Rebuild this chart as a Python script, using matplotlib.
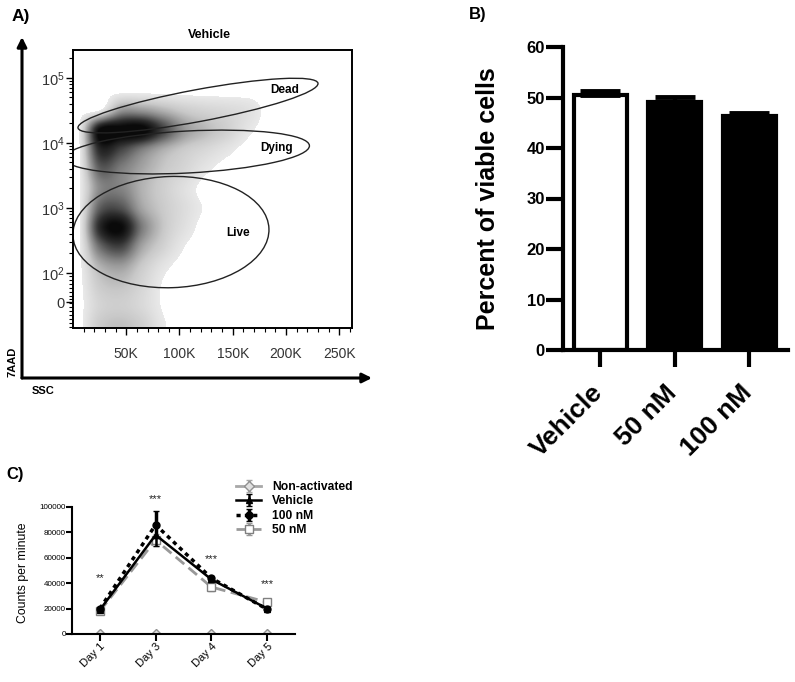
import numpy as np
import matplotlib
matplotlib.use('Agg')
import matplotlib.pyplot as plt
from matplotlib.patches import Ellipse, FancyArrowPatch
from matplotlib.transforms import ScaledTranslation
from matplotlib.colors import LinearSegmentedColormap, Normalize

plt.rcParams['font.family'] = ['Liberation Sans', 'DejaVu Sans']
plt.rcParams['mathtext.fontset'] = 'custom'
plt.rcParams['mathtext.rm'] = 'Liberation Sans'
plt.rcParams['mathtext.it'] = 'Liberation Sans:italic'
plt.rcParams['mathtext.bf'] = 'Liberation Sans:bold'

# ---------------- Panel A data (density) ----------------
ssc_grid = [5000, 25000, 45000, 65000, 85000, 105000, 125000, 145000,
            165000, 185000, 205000, 225000, 245000, 265000]
aad_grid = [5.4, 5.1, 4.8, 4.5, 4.2, 3.9, 3.6, 3.3, 3.0, 2.7, 2.4, 2.1, 1.8, 1.5, 1.2]
density = [
    [0, 0, 0, 0, 0, 0, 0, 0, 0, 0, 0, 0, 0, 0],
    [0, 0, 0, 0, 0, 0, 0, 0, 0, 0, 0, 0, 0, 0],
    [0, 0, 0, 0, 0, 0, 0, 0, 0, 0, 0, 0, 0, 0],
    [0, 0.03, 0.40, 0.40, 0.30, 0.20, 0.15, 0.12, 0.08, 0, 0, 0, 0, 0],
    [0, 0.95, 1.00, 1.00, 0.70, 0.40, 0.27, 0.17, 0.05, 0, 0, 0, 0, 0],
    [0, 0.80, 0.70, 0.50, 0.32, 0.20, 0.13, 0.06, 0, 0, 0, 0, 0, 0],
    [0, 0.60, 0.50, 0.35, 0.22, 0.14, 0.05, 0, 0, 0, 0, 0, 0, 0],
    [0, 0.45, 0.48, 0.30, 0.18, 0.08, 0, 0, 0, 0, 0, 0, 0, 0],
    [0, 0.60, 0.65, 0.35, 0.20, 0.10, 0.02, 0, 0, 0, 0, 0, 0, 0],
    [0, 0.80, 0.95, 0.50, 0.22, 0.08, 0, 0, 0, 0, 0, 0, 0, 0],
    [0, 0.55, 0.70, 0.35, 0.16, 0.03, 0, 0, 0, 0, 0, 0, 0, 0],
    [0, 0.30, 0.38, 0.20, 0.06, 0, 0, 0, 0, 0, 0, 0, 0, 0],
    [0, 0.20, 0.24, 0.14, 0.02, 0, 0, 0, 0, 0, 0, 0, 0, 0],
    [0, 0.15, 0.18, 0.12, 0.02, 0, 0, 0, 0, 0, 0, 0, 0, 0],
    [0, 0.20, 0.25, 0.18, 0.04, 0, 0, 0, 0, 0, 0, 0, 0, 0],
]
ssc_ticks = [50000, 100000, 150000, 200000, 250000]
ssc_labels = ['50K', '100K', '150K', '200K', '250K']
aad_ticks = [1.55, 2, 3, 4, 5]
aad_labels = ['0', '$10^2$', '$10^3$', '$10^4$', '$10^5$']
gate_names = ['Dead', 'Dying', 'Live']

# ---------------- Panel B data ----------------
conditions = ['Vehicle', '50 nM', '100 nM']
viability = [50.4, 49.2, 46.3]
viability_sem = [0.8, 0.9, 0.7]

# ---------------- Panel C data ----------------
days = ['Day 1', 'Day 3', 'Day 4', 'Day 5']
cpm_nonactivated = [300, 300, 300, 300]
cpm_vehicle = [19000, 78000, 43000, 20000]
cpm_100nm = [20000, 86000, 44000, 19500]
cpm_50nm = [18000, 74000, 37000, 25000]
err_nonactivated = [200, 200, 200, 200]
err_vehicle = [1500, 9000, 2000, 1500]
err_100nm = [1500, 10500, 2000, 1500]
err_50nm = [1500, 5000, 3000, 1500]
significance = ['**', '***', '***', '***']
sig_heights = [44000, 106000, 59000, 39000]

W, H = 795, 682
fig = plt.figure(figsize=(W / 100, H / 100), dpi=100)


def fbox(l, t, r, b):
    return [l / W, 1 - b / H, (r - l) / W, (b - t) / H]


# ======================= Panel A =======================
axA = fig.add_axes(fbox(73, 50, 352, 328))
dx = 20000
dy = 0.3
extent = (ssc_grid[0] - dx / 2, ssc_grid[-1] + dx / 2,
          aad_grid[-1] - dy / 2, aad_grid[0] + dy / 2)
flow_cmap = LinearSegmentedColormap.from_list(
    'flow', [(0.0, '#e9e9e9'), (0.2, '#c9c9c9'), (0.5, '#808080'),
             (0.8, '#303030'), (1.0, '#0a0a0a')])
flow_cmap.set_under('white')
flow_cmap.set_over('#0a0a0a')
axA.imshow(np.array(density), cmap=flow_cmap, norm=Normalize(0.03, 0.95),
           extent=extent, origin='upper', aspect='auto',
           interpolation='catrom', interpolation_stage='data')
axA.set_xlim(0, 262000)
axA.set_ylim(1.15, 5.43)
for s in axA.spines.values():
    s.set_linewidth(1.4)
axA.set_xticks(ssc_ticks)
axA.set_xticklabels(ssc_labels, fontsize=10, color='#333333')
for lab in axA.get_xticklabels():
    lab.set_transform(lab.get_transform() + ScaledTranslation(-0.05, 0, fig.dpi_scale_trans))
axA.set_xticks(np.arange(10000, 262000, 10000), minor=True)
axA.set_yticks(aad_ticks)
axA.set_yticklabels(aad_labels, fontsize=10.5, color='#333333')
minor_y = [d + np.log10(k) for d in (2, 3, 4, 5) for k in range(2, 10)
           if d + np.log10(k) < 5.43]
minor_y += list(np.linspace(1.17, 1.95, 14))
axA.set_yticks(minor_y, minor=True)
axA.tick_params(axis='x', which='major', direction='out', length=5, width=1, pad=9)
axA.tick_params(axis='x', which='minor', direction='out', length=3, width=0.8)
axA.tick_params(axis='y', which='major', direction='out', length=5, width=1, pad=1)
axA.tick_params(axis='y', which='minor', direction='out', length=3, width=0.8)

gate_specs = [((0.448, 0.80), 0.875, 0.115, 10.6),
              ((0.409, 0.633), 0.878, 0.151, 3.0),
              ((0.351, 0.345), 0.703, 0.40, 2.0)]
for (c, w, h, ang) in gate_specs:
    axA.add_patch(Ellipse(c, w, h, angle=ang, transform=axA.transAxes,
                          fill=False, edgecolor='#222222', lw=1.0))
label_pos = [(0.76, 0.855), (0.730, 0.648), (0.591, 0.342)]
for name, (x, y) in zip(gate_names, label_pos):
    axA.text(x, y, name, transform=axA.transAxes, ha='center', va='center',
             fontsize=8.5, fontweight='bold')

fig.text(209 / W, 1 - 35 / H, 'Vehicle', ha='center', va='center',
         fontsize=9, fontweight='bold')
fig.text(21 / W, 1 - 16 / H, 'A)', ha='center', va='center',
         fontsize=12.5, fontweight='bold')
fig.text(12 / W, 1 - 362 / H, '7AAD', ha='center', va='center', rotation=90,
         fontsize=8, fontweight='bold')
fig.text(43 / W, 1 - 391 / H, 'SSC', ha='center', va='center',
         fontsize=8, fontweight='bold')
for tip in [(22, 37), (372, 378)]:
    arr = FancyArrowPatch((22 / W, 1 - 378 / H), (tip[0] / W, 1 - tip[1] / H),
                          transform=fig.transFigure, arrowstyle='-|>',
                          mutation_scale=14, lw=2.2, color='black',
                          shrinkA=0, shrinkB=0)
    fig.add_artist(arr)

# ======================= Panel B =======================
axB = fig.add_axes(fbox(563, 47, 788, 350))
xb = np.arange(len(conditions))
axB.bar(xb, viability, width=0.71, color=['white', 'black', 'black'],
        edgecolor='black', linewidth=3, zorder=2)
axB.errorbar(xb, viability, yerr=[np.zeros(len(xb)), viability_sem], fmt='none',
             ecolor='black', elinewidth=3, capsize=14.5, capthick=3.5, zorder=3)
axB.set_xlim(-0.5, 2.52)
axB.set_ylim(0, 60)
axB.spines['top'].set_visible(False)
axB.spines['right'].set_visible(False)
axB.spines['left'].set_linewidth(3)
axB.spines['bottom'].set_linewidth(3)
axB.set_yticks([0, 10, 20, 30, 40, 50, 60])
axB.set_yticklabels(['0', '10', '20', '30', '40', '50', '60'],
                    fontsize=12, fontweight='bold')
axB.tick_params(axis='y', direction='out', length=12, width=3, pad=1)
axB.set_xticks(xb)
axB.set_xticklabels(conditions, fontsize=19, fontweight='bold', rotation=45,
                    ha='right', va='top', rotation_mode='anchor')
axB.tick_params(axis='x', direction='out', length=12, width=3, pad=10)
for lab in axB.get_xticklabels():
    lab.set_transform(lab.get_transform() + ScaledTranslation(-0.10, 0, fig.dpi_scale_trans))
axB.set_ylabel('Percent of viable cells', fontsize=18, fontweight='bold', va='center')
axB.yaxis.set_label_coords((488 - 563) / 225, 0.5)
fig.text(478 / W, 1 - 15 / H, 'B)', ha='center', va='center',
         fontsize=12, fontweight='bold')

# ======================= Panel C =======================
axC = fig.add_axes(fbox(72, 507, 295, 634))
xc = np.arange(len(days))
axC.errorbar(xc, cpm_nonactivated, yerr=err_nonactivated, color='#a8a8a8', lw=2,
             marker='D', ms=5, mfc='#e0e0e0', mec='#909090', capsize=2,
             label='Non-activated', zorder=2)
axC.errorbar(xc, cpm_50nm, yerr=err_50nm, color='#999999', lw=2, ls=(0, (4, 2)),
             marker='s', ms=6, mfc='white', mec='#808080', ecolor='#999999',
             capsize=2.5, label='50 nM', zorder=3)
axC.errorbar(xc, cpm_vehicle, yerr=err_vehicle, color='black', lw=1.8,
             marker='^', ms=5, capsize=2.5, label='Vehicle', zorder=4)
axC.errorbar(xc, cpm_100nm, yerr=err_100nm, color='black', lw=2.5, ls=(0, (1.2, 1.2)),
             marker='o', ms=5, capsize=2.5, label='100 nM', zorder=5)
axC.set_xlim(-0.5, 3.5)
axC.set_ylim(0, 100000)
axC.spines['top'].set_visible(False)
axC.spines['right'].set_visible(False)
axC.spines['left'].set_linewidth(1.5)
axC.spines['bottom'].set_linewidth(1.5)
axC.set_yticks([0, 20000, 40000, 60000, 80000, 100000])
axC.set_yticklabels(['0', '20000', '40000', '60000', '80000', '100000'], fontsize=5.8)
axC.tick_params(axis='y', direction='out', length=4, width=1.5, pad=0.5)
axC.set_xticks(xc)
axC.set_xticklabels(days, fontsize=8, rotation=45, ha='right', va='top',
                    rotation_mode='anchor')
axC.tick_params(axis='x', direction='out', length=5, width=1.5, pad=0)
axC.set_ylabel('Counts per minute', fontsize=8.8, va='center')
axC.yaxis.set_label_coords((23 - 72) / 223, (634 - 573) / 127)
for x, s, y in zip(xc, significance, sig_heights):
    axC.text(x, y, s, ha='center', va='center', fontsize=8, color='#222222',
             clip_on=False)
handles, labels = axC.get_legend_handles_labels()
order = [labels.index(n) for n in ['Non-activated', 'Vehicle', '100 nM', '50 nM']]
fig.legend([handles[i] for i in order], [labels[i] for i in order],
           loc='upper left', bbox_to_anchor=(236 / W, 1 - 481 / H), frameon=False,
           prop={'size': 8.7, 'weight': 'bold'}, handlelength=2.1,
           handletextpad=0.9, labelspacing=0.2, borderpad=0, borderaxespad=0)
fig.text(15 / W, 1 - 474 / H, 'C)', ha='center', va='center',
         fontsize=12, fontweight='bold')

fig.savefig('out.png', dpi=100)
